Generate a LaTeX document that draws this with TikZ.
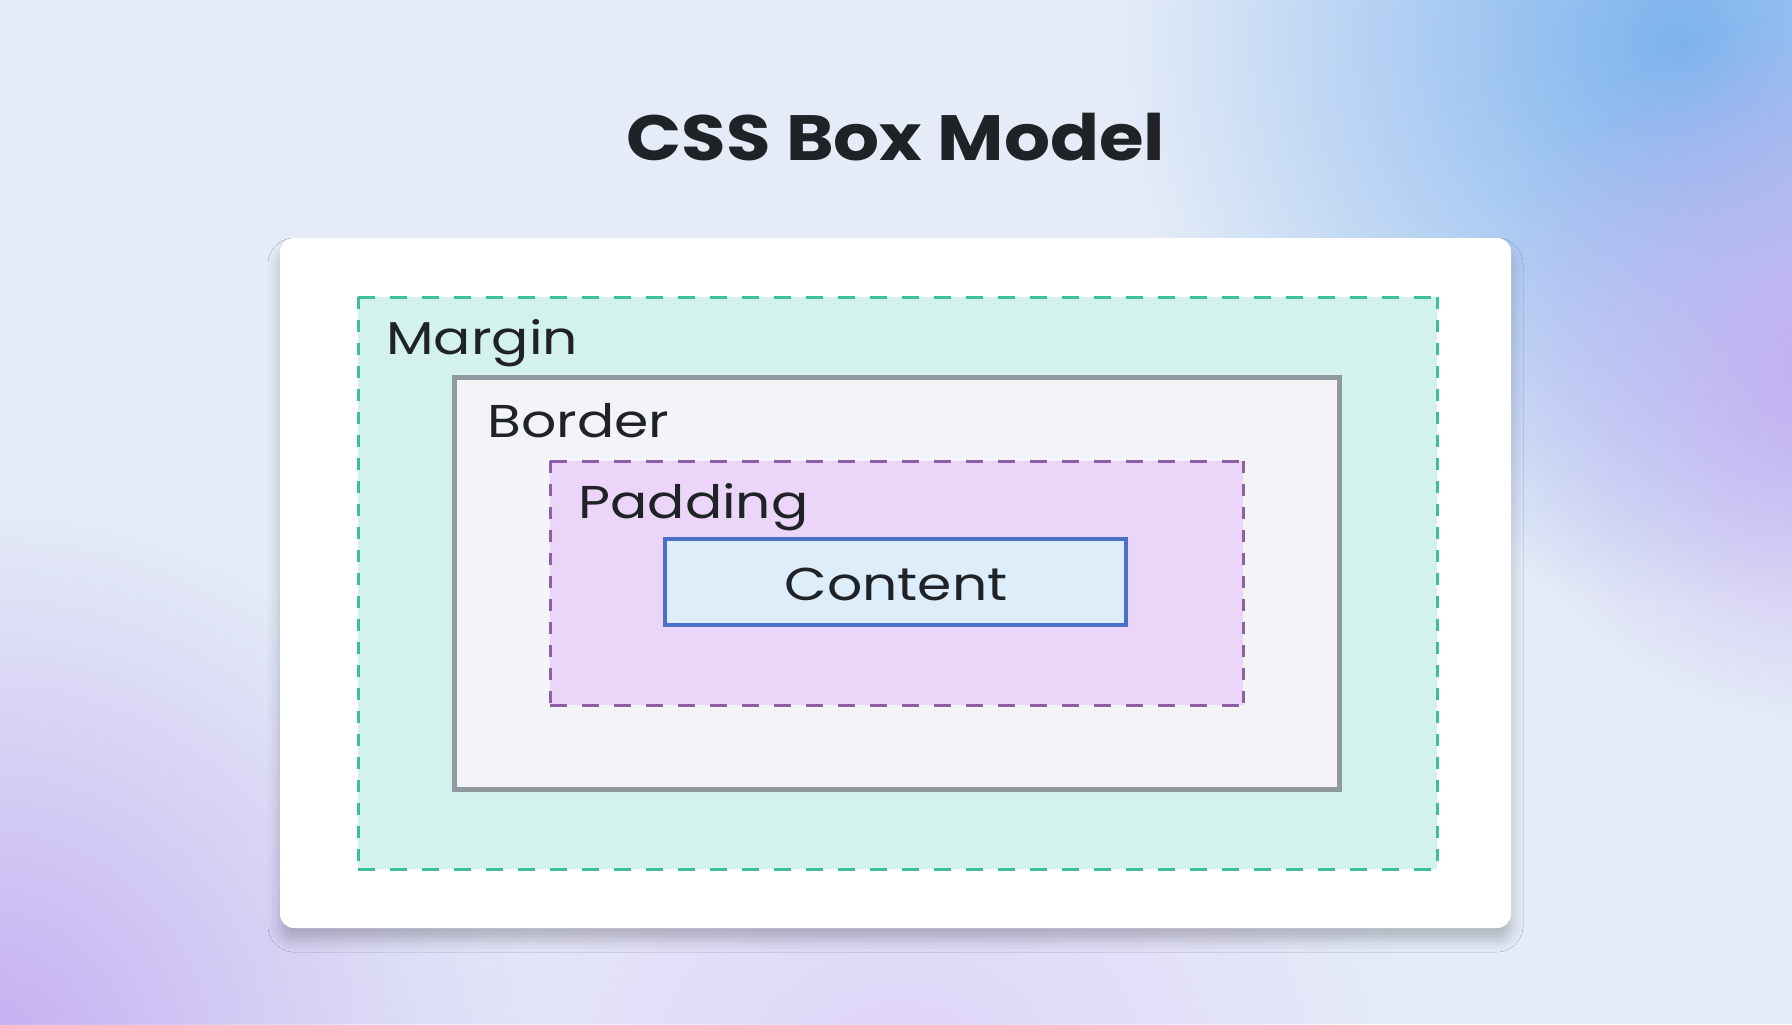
\documentclass[tikz,border=0pt]{standalone}
\usepackage{fontspec}
\setmainfont{Poppins}
\newfontfamily\labelfont[FakeStretch=1.2]{Poppins}
\newfontfamily\titlefont[FakeStretch=1.13]{Poppins}
\usetikzlibrary{fadings,shadows.blur}
\definecolor{bgbase}{HTML}{E5ECF8}
\definecolor{glowblue}{HTML}{7DB3EE}
\definecolor{glowpurple}{HTML}{C4AEF2}
\definecolor{marginfill}{HTML}{D4F2EC}
\definecolor{margindraw}{HTML}{3DBF9F}
\definecolor{borderfill}{HTML}{F4F4F8}
\definecolor{borderdraw}{HTML}{8E9AA0}
\definecolor{paddingfill}{HTML}{EBD5F8}
\definecolor{paddingdraw}{HTML}{8C5FA6}
\definecolor{contentfill}{HTML}{DDEEFA}
\definecolor{contentdraw}{HTML}{4A70C8}
\definecolor{textdark}{HTML}{1F2328}
\tikzfading[name=glowfade, inner color=transparent!0, outer color=transparent!100]
\tikzset{
  cardbox/.style={fill=white, rounded corners=7pt, blur shadow={shadow xshift=0pt, shadow yshift=-6pt, shadow blur radius=6pt, shadow opacity=22}},
  marginfillst/.style={fill=marginfill},
  marginh/.style={draw=margindraw, line width=1.5pt, dash pattern=on 8.5pt off 7.5pt},
  marginv/.style={draw=margindraw, line width=1.5pt, dash pattern=on 6pt off 5.5pt},
  borderbox/.style={fill=borderfill, draw=borderdraw, line width=2.5pt},
  paddingfillst/.style={fill=paddingfill},
  paddingh/.style={draw=paddingdraw, line width=1.5pt, dash pattern=on 8.5pt off 7.5pt},
  paddingv/.style={draw=paddingdraw, line width=1.5pt, dash pattern=on 6pt off 5.5pt},
  contentbox/.style={fill=contentfill, draw=contentdraw, line width=1.8pt},
  boxlabel/.style={anchor=base west, inner sep=0pt, text=textdark, font=\labelfont\fontsize{23}{26}\selectfont},
}
\begin{document}
\begin{tikzpicture}[x=0.5pt,y=-0.5pt]
\useasboundingbox (0,0) rectangle (1792,1024);
% background
\fill[bgbase] (0,0) rectangle (1792,1024);
\begin{scope}
\clip (0,0) rectangle (1792,1024);
\fill[glowpurple!55, path fading=glowfade] (900,1120) circle (520);
\fill[glowblue, path fading=glowfade] (1680,40) circle (560);
\fill[glowpurple, path fading=glowfade] (1830,370) circle (360);
\fill[glowpurple, path fading=glowfade] (-20,1060) circle (560);
\end{scope}
% title
\node[anchor=base, inner sep=0pt, text=textdark, font=\titlefont\bfseries\fontsize{32}{36}\selectfont] (title) at (896,160) {CSS Box Model};
% card
\path[cardbox] (280,238) rectangle (1511,928);
% margin
\fill[marginfillst] (358,297) rectangle (1437,869);
\draw[marginh] (358,297) -- (1437,297) (358,869) -- (1437,869);
\draw[marginv] (358,297) -- (358,869) (1437,297) -- (1437,869);
% border
\draw[borderbox] (454,377) rectangle (1339,789);
% padding
\fill[paddingfillst] (550,461) rectangle (1243,705);
\draw[paddingh] (550,461) -- (1243,461) (550,705) -- (1243,705);
\draw[paddingv] (550,461) -- (550,705) (1243,461) -- (1243,705);
% content
\draw[contentbox] (665,539) rectangle (1126,625);
% labels
\node[boxlabel] (marginlabel) at (386,354) {Margin};
\node[boxlabel] (borderlabel) at (487,437) {Border};
\node[boxlabel] (paddinglabel) at (578,518) {Padding};
\node[boxlabel, anchor=base] (contentlabel) at (896,600) {Content};
\end{tikzpicture}
\end{document}
